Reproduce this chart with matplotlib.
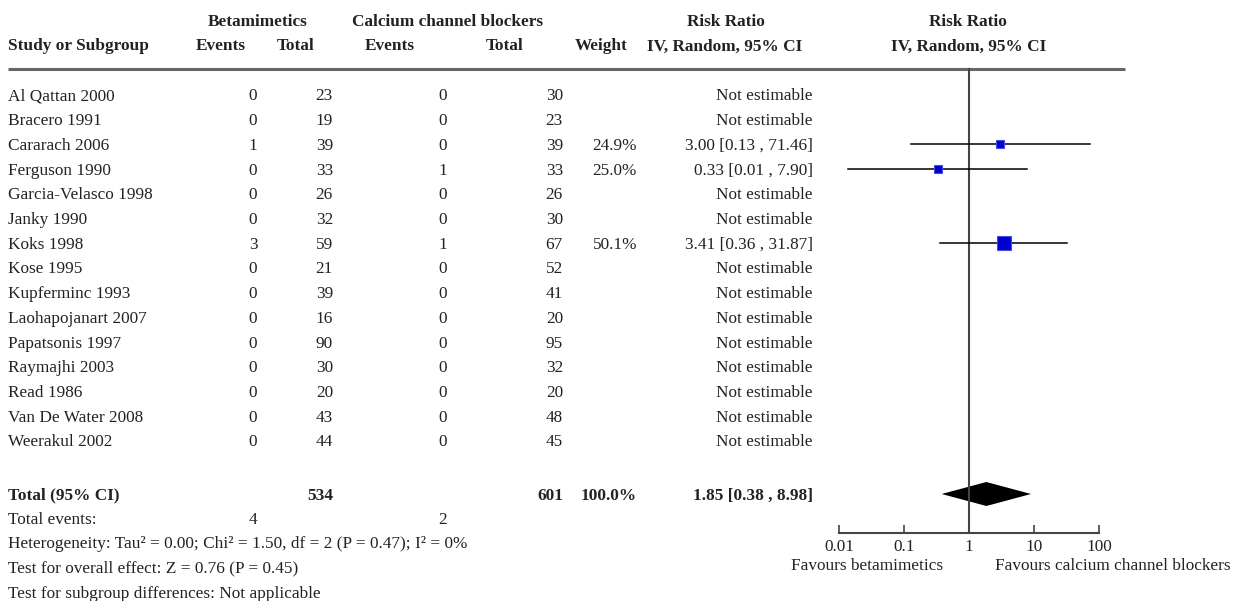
import matplotlib.pyplot as plt

studies = ['Al Qattan 2000', 'Bracero 1991', 'Cararach 2006', 'Ferguson 1990',
           'Garcia-Velasco 1998', 'Janky 1990', 'Koks 1998', 'Kose 1995',
           'Kupferminc 1993', 'Laohapojanart 2007', 'Papatsonis 1997',
           'Raymajhi 2003', 'Read 1986', 'Van De Water 2008', 'Weerakul 2002']
beta_events = [0, 0, 1, 0, 0, 0, 3, 0, 0, 0, 0, 0, 0, 0, 0]
beta_total = [23, 19, 39, 33, 26, 32, 59, 21, 39, 16, 90, 30, 20, 43, 44]
ccb_events = [0, 0, 0, 1, 0, 0, 1, 0, 0, 0, 0, 0, 0, 0, 0]
ccb_total = [30, 23, 39, 33, 26, 30, 67, 52, 41, 20, 95, 32, 20, 48, 45]
weights = [None, None, 24.9, 25.0, None, None, 50.1, None, None, None, None, None, None, None, None]
rr = [None, None, 3.00, 0.33, None, None, 3.41, None, None, None, None, None, None, None, None]
ci_lo = [None, None, 0.13, 0.014, None, None, 0.36, None, None, None, None, None, None, None, None]
ci_hi = [None, None, 71.46, 7.90, None, None, 31.87, None, None, None, None, None, None, None, None]

pooled_rr, pooled_lo, pooled_hi = 1.85, 0.38, 8.98
ticks = [0.01, 0.1, 1, 10, 100]
tick_labels = ['0.01', '0.1', '1', '10', '100']

W, H = 1238, 601
plt.rcParams['font.family'] = ['Liberation Serif', 'DejaVu Serif']
fig = plt.figure(figsize=(W / 100, H / 100), dpi=100)

# table layer in pixel coords
bg = fig.add_axes([0, 0, 1, 1])
bg.set_xlim(0, W)
bg.set_ylim(H, 0)
bg.axis('off')

fs = 12.4
tc = '#222222'
dyt = 1.5  # small nudge so text sits like the reference

def t(x, y, s, ha='left', bold=False, size=fs):
    bg.text(x, y + dyt, s, ha=ha, va='center', fontsize=size, color=tc,
            fontweight='bold' if bold else 'normal')

# header
t(258, 21, 'Betamimetics', 'center', True)
t(448, 21, 'Calcium channel blockers', 'center', True)
t(726, 21, 'Risk Ratio', 'center', True)
t(968, 21, 'Risk Ratio', 'center', True)
t(8, 45, 'Study or Subgroup', bold=True)
t(221, 45, 'Events', 'center', True)
t(296, 45, 'Total', 'center', True)
t(390, 45, 'Events', 'center', True)
t(505, 45, 'Total', 'center', True)
t(601, 45, 'Weight', 'center', True)
t(725, 45, 'IV, Random, 95% CI', 'center', True)
t(969, 45, 'IV, Random, 95% CI', 'center', True)
bg.plot([8, 1125], [69, 69], color='#666666', lw=2.2, solid_capstyle='butt')

y0, dy = 95, 24.7
row_y = [y0 + i * dy for i in range(len(studies))]
for i, name in enumerate(studies):
    y = row_y[i]
    t(8, y, name)
    t(253, y, str(beta_events[i]), 'center')
    t(333, y, str(beta_total[i]), 'right')
    t(443, y, str(ccb_events[i]), 'center')
    t(563, y, str(ccb_total[i]), 'right')
    if weights[i] is not None:
        t(637, y, f'{weights[i]:.1f}%', 'right')
        t(813, y, f'{rr[i]:.2f} [{ci_lo[i]:.2f} , {ci_hi[i]:.2f}]', 'right')
    else:
        t(813, y, 'Not estimable', 'right')

ty = 494
t(8, ty, 'Total (95% CI)', bold=True)
t(333, ty, str(sum(beta_total)), 'right', True)
t(563, ty, str(sum(ccb_total)), 'right', True)
t(637, ty, '100.0%', 'right', True)
t(813, ty, f'{pooled_rr:.2f} [{pooled_lo:.2f} , {pooled_hi:.2f}]', 'right', True)
t(8, 518, 'Total events:')
t(253, 518, str(sum(beta_events)), 'center')
t(443, 518, str(sum(ccb_events)), 'center')
t(8, 543, 'Heterogeneity: Tau² = 0.00; Chi² = 1.50, df = 2 (P = 0.47); I² = 0%')
t(8, 567, 'Test for overall effect: Z = 0.76 (P = 0.45)')
t(8, 592, 'Test for subgroup differences: Not applicable')

# forest plot layer: 0.01 at px 839, 65 px per decade
left_px, right_px = 780, 1160
ax = fig.add_axes([left_px / W, 0, (right_px - left_px) / W, 1])
ax.patch.set_alpha(0)
ax.set_xscale('log')
ax.set_xlim(10 ** (-2 - (839 - left_px) / 65), 10 ** ((right_px - 969) / 65))
ax.set_ylim(H, 0)
for s in ['top', 'right', 'left']:
    ax.spines[s].set_visible(False)
ax.spines['bottom'].set_position(('data', 533))
ax.spines['bottom'].set_bounds(0.01, 100)
ax.spines['bottom'].set_color('#444444')
ax.spines['bottom'].set_linewidth(1.5)
ax.set_yticks([])
ax.set_xticks(ticks)
ax.set_xticklabels(tick_labels)
ax.minorticks_off()
ax.tick_params(axis='x', direction='in', length=5.5, width=1.2, color='#444444',
               labelsize=fs, labelcolor=tc, pad=4)

ax.plot([1, 1], [69, 533], color='#444444', lw=1.5)

for i in range(len(studies)):
    if rr[i] is None:
        continue
    y = row_y[i]
    ax.plot([ci_lo[i], ci_hi[i]], [y, y], color='black', lw=1.1)
    ms = 6.3 * (weights[i] / 24.9) ** 0.65
    ax.plot(rr[i], y, marker='s', ms=ms, color='#0000CC', mec='#4A4AEE', mew=0.8)

ax.fill([pooled_lo, pooled_rr, pooled_hi, pooled_rr], [ty, ty - 12, ty, ty + 12],
        color='black', lw=0)

bg.text(943, 566, 'Favours betamimetics', ha='right', va='center', fontsize=fs, color=tc)
bg.text(995, 566, 'Favours calcium channel blockers', ha='left', va='center', fontsize=fs, color=tc)

fig.savefig('out.png', dpi=100)
